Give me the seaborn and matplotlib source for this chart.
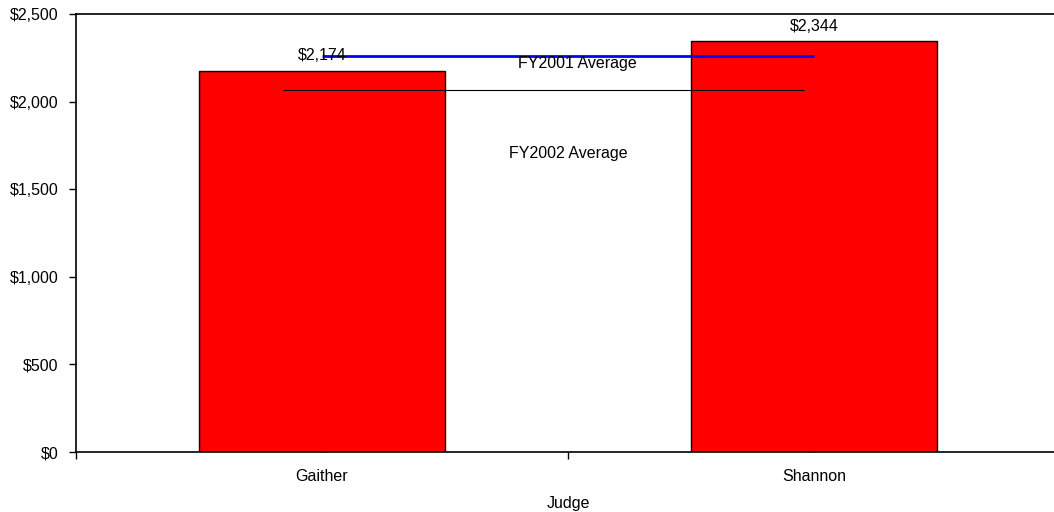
import matplotlib
matplotlib.use("Agg")
import matplotlib.pyplot as plt
import seaborn as sns
import pandas as pd
from matplotlib.ticker import FuncFormatter, FixedLocator

# data
judges = ["Gaither", "Shannon"]
amounts = [2174, 2344]
fy2001_avg = 2260
fy2002_avg = 2066

sns.set_style("white")
plt.rcParams['font.family'] = ['Liberation Sans', 'DejaVu Sans']
plt.rcParams['text.color'] = 'black'
plt.rcParams['xtick.color'] = 'black'
plt.rcParams['ytick.color'] = 'black'
plt.rcParams['axes.labelcolor'] = 'black'

fs = 11.5
df = pd.DataFrame({"Judge": judges, "Amount": amounts})

fig = plt.figure(figsize=(10.54, 5.12), dpi=100)
ax = fig.add_axes([76/1054, 60/512, 984/1054, 438/512])

sns.barplot(data=df, x="Judge", y="Amount", color="#ff0000", edgecolor="black",
            linewidth=1, width=0.5, saturation=1, ax=ax)

# average lines
ax.hlines(fy2001_avg, 0, 1, color="#0000ff", linewidth=2, zorder=3)
ax.hlines(fy2002_avg, -0.08, 0.98, color="black", linewidth=0.8, zorder=3)
ax.text(0.52, fy2001_avg - 40, "FY2001 Average", ha="center", va="center", fontsize=fs)
ax.text(0.5, fy2002_avg - 360, "FY2002 Average", ha="center", va="center", fontsize=fs)

# value labels
for i, v in enumerate(amounts):
    ax.text(i, v + 87, "${:,}".format(v), ha="center", va="center", fontsize=fs)

ax.set_xlim(-0.5, 1.5)
ax.set_ylim(0, 2500)
ax.set_yticks(range(0, 2501, 500))
ax.yaxis.set_major_formatter(FuncFormatter(lambda v, p: "${:,.0f}".format(v)))
ax.tick_params(axis="y", direction="out", length=5, width=1, labelsize=fs, pad=7.5, left=True)
ax.xaxis.set_minor_locator(FixedLocator([-0.5, 0.5, 1.5]))
ax.tick_params(axis="x", which="minor", direction="out", length=5, width=1, bottom=True)
ax.tick_params(axis="x", which="major", direction="in", length=4, width=1, labelsize=fs, pad=12, bottom=True)

ax.set_xlabel("Judge", fontsize=fs, labelpad=9)
ax.set_ylabel("")

for s in ["left", "bottom", "top"]:
    ax.spines[s].set_visible(True)
    ax.spines[s].set_color("black")
    ax.spines[s].set_linewidth(1.2)
ax.spines["right"].set_visible(False)

fig.savefig("out.png", dpi=100, facecolor="white")
